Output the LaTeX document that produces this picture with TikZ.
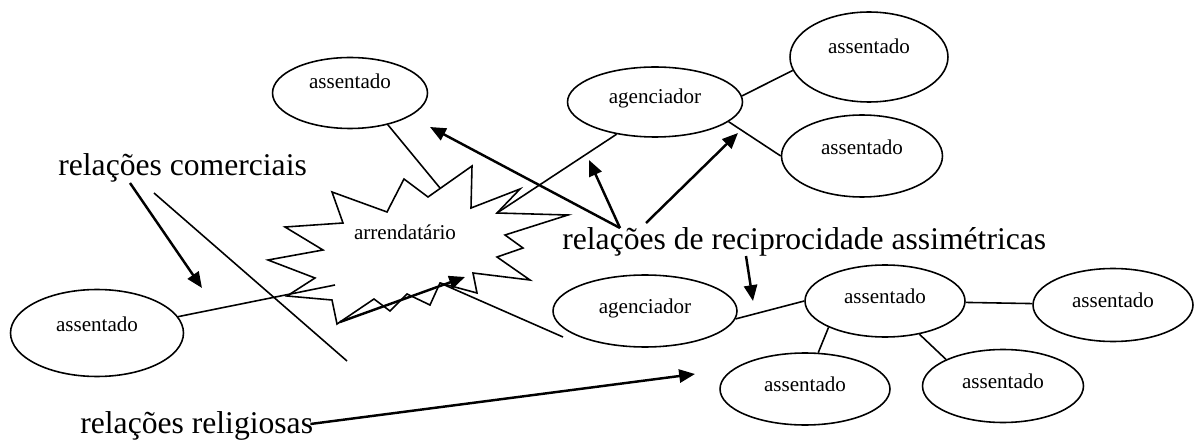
\documentclass[tikz,border=0pt]{standalone}
\usepackage{fontspec}
\setmainfont{Liberation Serif}
\usetikzlibrary{shapes,arrows.meta}

\begin{document}
\begin{tikzpicture}[
      x=0.02cm, y=-0.02cm,
      elip/.style = {ellipse, draw, line width=0.9pt, inner sep=0pt, text depth=6pt, font=\fontsize{12}{14}\selectfont},
      rel/.style = {font=\fontsize{18}{22}\selectfont, inner sep=0pt, anchor=base west},
      liga/.style = {line width=0.9pt},
      seta/.style = {-{Triangle[length=9pt,width=7.5pt]}, line width=1.4pt}
      ]
      \useasboundingbox (0,0) rectangle (1200,442);

      % os atores
      \node[elip, minimum width=3.1cm, minimum height=1.42cm, text depth=14pt] (as1) at (350,93) {assentado};
      \node[elip, minimum width=3.5cm, minimum height=1.4cm, text depth=7pt] (ag1) at (655,102) {agenciador};
      \node[elip, minimum width=3.16cm, minimum height=1.8cm, text depth=12.5pt] (as2) at (869,57) {assentado};
      \node[elip, minimum width=3.22cm, minimum height=1.64cm, text depth=10pt] (as3) at (862,156) {assentado};
      \node[elip, minimum width=3.46cm, minimum height=1.74cm, text depth=10pt] (as4) at (97,333) {assentado};
      \node[elip, minimum width=3.68cm, minimum height=1.44cm] (ag2) at (645,311) {agenciador};
      \node[elip, minimum width=3.2cm, minimum height=1.44cm] (as5) at (885,301) {assentado};
      \node[elip, minimum width=3.2cm, minimum height=1.46cm] (as6) at (1113,305) {assentado};
      \node[elip, minimum width=3.4cm, minimum height=1.44cm] (as7) at (805,389) {assentado};
      \node[elip, minimum width=3.22cm, minimum height=1.46cm] (as8) at (1003,386) {assentado};

      % o arrendatario (estrela)
      \draw[liga] (285,227) -- (343,223) -- (332,192) -- (387,212) -- (404,179) -- (428,197)
        -- (472,166) -- (471,208) -- (520,189) -- (497,213) -- (568,215) -- (505,235)
        -- (523,248) -- (497,257) -- (530,280) -- (473,273) -- (477,293) -- (440,283)
        -- (430,305) -- (407,294) -- (390,311) -- (374,299) -- (337,324) -- (332,300)
        -- (287,296) -- (315,278) -- (268,260) -- (323,250) -- cycle;
      \node[font=\fontsize{12}{14}\selectfont] (arr) at (405,232) {arrendatário};
      \coordinate (sbTop) at (440,188);
      \coordinate (sbNotch) at (497,213);
      \coordinate (sbLeft) at (335,285);
      \coordinate (sbLow) at (340,322);
      \coordinate (sbRight) at (440,283);

      % tipos de relacao
      \node[rel] (com) at (58,176) {relações comerciais};
      \node[rel] (rec) at (562,250) {relações de reciprocidade assimétricas};
      \node[rel] (relig) at (80,433) {relações religiosas};

      % ligacoes
      \draw[liga] (as4) -- (sbLeft);
      \draw[liga] (as1.-40) -- (sbTop);
      \draw[liga] (ag1.-140) -- (sbNotch);
      \draw[liga] (ag1.4) -- (as2.190);
      \draw[liga] (ag1.-15) -- (as3.west);
      \draw[liga] (sbRight) -- (563,337) coordinate (ag2Near);
      \draw[liga] (ag2.-5) -- (as5.west);
      \draw[liga] (as5) -- (as6);
      \draw[liga] (as5.205) -- (as7.70);
      \draw[liga] (as5.-44) -- (as8.155);
      \draw[liga] (154,193) coordinate (comB) -- (347,361) coordinate (comEnd);

      % setas
      \draw[seta] (130,183) coordinate (comA) -- (202,288) coordinate (comTip);
      \draw[seta] (sbLow) -- (465,277) coordinate (sbTip);
      \draw[seta] (620,228) coordinate (recA) -- (430,127) coordinate (recTip1);
      \draw[seta] (recA) -- (589,160) coordinate (recTip2);
      \draw[seta] (646,223) coordinate (recB) -- (738,133) coordinate (recTip3);
      \draw[seta] (746,256) coordinate (recC) -- (753,301) coordinate (recTip4);
      \draw[seta] (relig.base east) ++(-3,-9) coordinate (religA) -- (695,374) coordinate (religTip);
\end{tikzpicture}
\end{document}
